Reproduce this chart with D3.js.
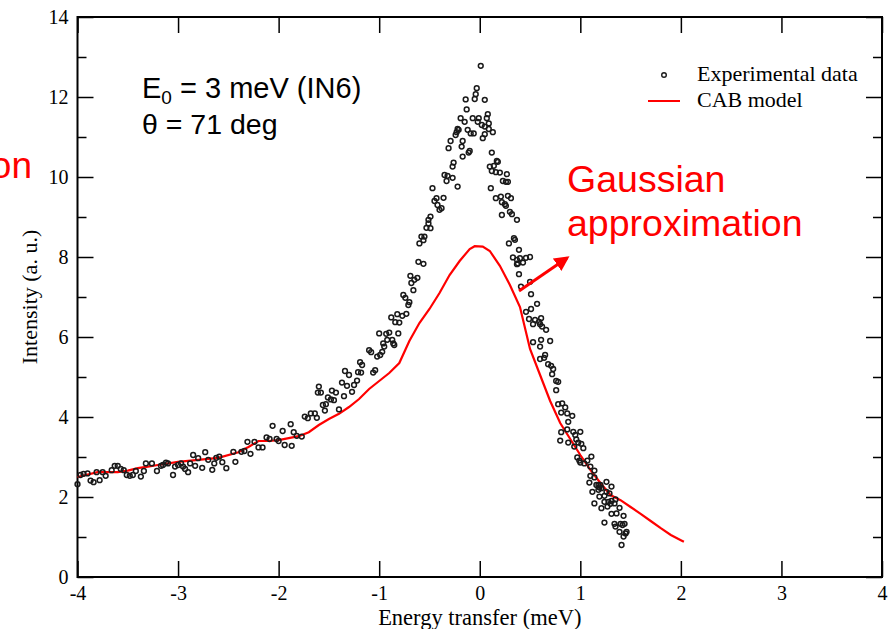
<!DOCTYPE html>
<html>
<head>
<meta charset="utf-8">
<script src="https://cdn.jsdelivr.net/npm/d3@7"></script>
<style>
  body { margin: 0; background: #fff; }
  svg { display: block; }
</style>
</head>
<body>
<div id="chart"></div>
<script>
// model curve (CAB model)
var modelE = [-4.0,-3.8,-3.6,-3.5,-3.4,-3.3,-3.2,-3.0,-2.8,-2.6,-2.4,-2.3,-2.2,-2.1,-2.0,-1.8,-1.7,-1.6,-1.5,-1.4,-1.3,-1.2,-1.1,-1.0,-0.9,-0.8,-0.7,-0.6,-0.5,-0.4,-0.3,-0.2,-0.1,-0.05,0.03,0.1,0.2,0.3,0.4,0.5,0.6,0.7,0.8,0.9,1.0,1.1,1.2,1.3,1.4,1.5,1.6,1.7,1.8,1.9,2.0,2.03];
var modelI = [2.50,2.62,2.62,2.66,2.72,2.76,2.80,2.88,2.93,2.98,3.12,3.25,3.40,3.40,3.42,3.52,3.62,3.80,3.95,4.08,4.25,4.45,4.70,4.90,5.10,5.35,5.90,6.35,6.70,7.10,7.55,7.90,8.20,8.27,8.26,8.15,7.78,7.30,6.75,5.70,5.05,4.40,3.85,3.45,3.05,2.68,2.35,2.05,1.92,1.75,1.58,1.40,1.22,1.05,0.92,0.88];

// experimental points
var expE = [-4.00,-3.97,-3.94,-3.90,-3.87,-3.84,-3.81,-3.78,-3.75,-3.72,-3.66,-3.63,-3.60,-3.57,-3.54,-3.51,-3.48,-3.45,-3.42,-3.37,
  -3.34,-3.32,-3.26,-3.21,-3.17,-3.15,-3.12,-3.10,-3.05,-3.03,-3.00,-2.97,-2.95,-2.93,-2.90,-2.88,-2.85,-2.83,-2.80,-2.76,
  -2.73,-2.70,-2.66,-2.64,-2.62,-2.59,-2.56,-2.52,-2.45,-2.43,-2.37,-2.34,-2.31,-2.28,-2.24,-2.20,-2.16,-2.12,-2.09,-2.06,
  -2.02,-2.00,-1.96,-1.94,-1.88,-1.87,-1.85,-1.82,-1.77,-1.74,-1.71,-1.68,-1.64,-1.62,-1.61,-1.60,-1.58,-1.56,-1.54,-1.53,
  -1.51,-1.48,-1.47,-1.45,-1.43,-1.40,-1.37,-1.35,-1.34,-1.32,-1.30,-1.27,-1.25,-1.22,-1.21,-1.19,-1.18,-1.17,-1.10,-1.08,
  -1.06,-1.04,-1.02,-1.00,-0.99,-0.97,-0.96,-0.95,-0.93,-0.92,-0.90,-0.87,-0.86,-0.85,-0.88,-0.84,-0.82,-0.80,-0.77,-0.81,
  -0.73,-0.71,-0.70,-0.76,-0.74,-0.66,-0.68,-0.65,-0.62,-0.69,-0.61,-0.56,-0.60,-0.58,-0.55,-0.56,-0.53,-0.51,-0.49,-0.49,
  -0.51,-0.47,-0.45,-0.43,-0.42,-0.40,-0.38,-0.36,-0.35,-0.33,-0.32,-0.31,-0.29,-0.27,-0.26,-0.27,-0.22,-0.24,-0.23,-0.22,
  -0.21,-0.18,-0.17,-0.17,-0.19,-0.15,-0.14,-0.13,-0.11,-0.10,-0.12,-0.09,-0.07,-0.06,-0.05,-0.04,-0.03,-0.02,-0.01,0.01,
  0.02,0.05,0.07,0.08,0.09,0.05,0.09,0.05,0.03,0.13,0.12,0.17,0.18,0.10,0.14,0.12,0.16,0.20,0.27,0.23,
  0.26,0.28,0.11,0.16,0.21,0.22,0.25,0.28,0.31,0.26,0.22,0.30,0.32,0.37,0.34,0.35,0.29,0.39,0.33,0.37,
  0.40,0.43,0.46,0.50,0.37,0.38,0.39,0.41,0.50,0.51,0.51,0.46,0.57,0.49,0.55,0.53,0.59,0.61,0.60,0.62,
  0.66,0.53,0.61,0.70,0.60,0.60,0.65,0.64,0.68,0.71,0.73,0.72,0.76,0.78,0.76,0.78,0.82,0.81,0.85,0.87,
  0.92,0.88,0.81,0.80,0.87,0.93,0.95,1.00,0.88,0.96,0.98,1.01,0.94,1.03,0.97,0.99,1.00,1.04,1.07,1.11,
  1.10,1.14,1.10,1.09,1.14,1.16,1.18,1.19,1.20,1.12,1.18,1.21,1.26,1.24,1.26,1.29,1.31,1.19,1.14,1.24,
  1.28,1.31,1.34,1.35,1.21,1.27,1.30,1.39,1.31,1.36,1.43,1.24,1.34,1.35,1.40,1.42,1.44,1.39,1.46,1.45,
  1.43,1.41];
var expI = [2.32,2.55,2.58,2.59,2.41,2.37,2.62,2.42,2.62,2.53,2.67,2.78,2.78,2.70,2.67,2.55,2.53,2.55,2.65,2.51,
  2.65,2.84,2.84,2.65,2.78,2.80,2.86,2.84,2.55,2.76,2.80,2.84,2.76,2.70,2.62,2.84,3.05,2.78,2.97,2.73,
  3.12,2.93,2.68,2.84,2.98,3.01,2.87,2.72,3.13,2.88,3.13,3.15,3.38,3.08,3.38,3.24,3.24,3.49,3.45,3.78,
  3.45,3.40,3.65,3.30,3.82,3.28,3.62,3.53,3.51,4.01,3.97,4.09,4.09,3.98,4.61,4.76,4.61,4.30,4.16,4.32,
  4.49,4.44,4.66,4.42,4.61,4.19,4.86,4.52,5.15,4.78,5.05,4.63,4.80,4.91,5.12,5.37,5.11,5.30,5.67,5.62,
  5.11,5.17,5.51,6.09,5.55,5.63,5.84,5.76,6.08,5.93,6.11,5.93,5.84,5.80,6.49,6.37,6.57,6.36,6.53,6.09,
  6.58,6.80,6.87,7.05,6.98,7.17,7.35,7.43,7.48,7.53,7.88,7.83,8.34,8.51,8.51,8.42,8.73,8.93,9.01,8.72,
  8.84,9.72,9.40,9.47,9.30,9.18,9.22,9.48,10.05,9.90,10.03,10.72,10.90,10.26,10.36,9.98,9.76,11.05,11.12,11.20,
  11.18,10.76,10.51,10.90,11.47,11.38,11.94,11.69,10.61,10.65,11.18,11.09,11.47,11.09,11.95,12.07,12.22,11.38,11.47,12.78,
  11.30,11.93,11.47,11.57,11.34,11.26,11.20,11.07,10.97,11.12,10.61,10.40,10.38,10.26,10.28,10.15,10.12,10.11,10.07,9.90,
  9.88,9.88,9.72,9.47,9.51,9.37,9.32,9.53,9.47,9.28,9.05,9.13,9.07,8.93,8.47,8.43,8.34,8.18,7.99,7.93,
  7.97,7.86,7.98,8.00,7.82,7.84,7.57,7.26,7.38,7.07,6.70,6.63,6.83,6.45,6.43,6.32,6.38,6.47,6.32,6.26,
  6.18,5.87,5.93,5.90,5.76,5.45,5.55,5.48,5.32,5.28,5.20,5.07,4.90,4.88,4.67,4.32,4.34,4.11,4.24,4.09,
  4.03,3.88,3.62,3.41,3.69,3.63,3.55,3.63,3.36,3.44,3.36,3.33,3.26,3.22,2.99,2.91,2.86,2.84,2.91,3.01,
  2.76,2.66,2.53,2.36,2.49,2.30,2.30,2.24,2.30,2.13,2.18,2.22,2.38,2.03,2.13,2.09,2.26,2.01,1.84,1.88,
  1.88,1.90,1.84,1.94,1.72,1.76,1.83,1.73,1.58,1.59,1.53,1.36,1.33,1.26,1.33,1.30,1.33,1.13,1.13,1.09,
  1.01,0.80];

var xTicks = [-4,-3,-2,-1,0,1,2,3,4];
var yTicks = [0,2,4,6,8,10,12,14];
var yMinor = [1,3,5,7,9,11,13];
var legendLabels = ["Experimental data", "CAB model"];

function drawChart() {
  var width = 892, height = 629;
  var mLeft = 77.5, mRight = 882, mTop = 17, mBottom = 577;

  var svg = d3.select("#chart").append("svg")
      .attr("width", width)
      .attr("height", height);

  var x = d3.scaleLinear().domain([-4, 4]).range([mLeft, mRight]);
  var y = d3.scaleLinear().domain([0, 14]).range([mBottom, mTop]);

  var serif = "'Liberation Serif', 'Times New Roman', serif";
  var sans = "'Liberation Sans', Arial, sans-serif";
  var fmt = function(d) { return String(d); };

  // axes, ticks point inward
  function styleAxis(g) {
    g.select(".domain").remove();
    g.selectAll(".tick line").attr("stroke", "#000").attr("stroke-width", 1.5);
    g.selectAll("text").attr("font-family", serif).attr("font-size", 20).attr("fill", "#000");
  }

  svg.append("g").attr("transform", "translate(0," + mBottom + ")")
    .call(d3.axisBottom(x).tickValues(xTicks).tickSize(-16).tickPadding(8).tickFormat(fmt))
    .call(styleAxis)
    .selectAll("text").attr("dy", "0.71em").attr("y", 9);
  svg.append("g").attr("transform", "translate(0," + mTop + ")")
    .call(d3.axisTop(x).tickValues(xTicks).tickSize(-16).tickFormat(""))
    .call(styleAxis);
  svg.append("g").attr("transform", "translate(" + mLeft + ",0)")
    .call(d3.axisLeft(y).tickValues(yTicks).tickSize(-16).tickFormat(fmt))
    .call(styleAxis)
    .selectAll("text").attr("x", -9);
  svg.append("g").attr("transform", "translate(" + mLeft + ",0)")
    .call(d3.axisLeft(y).tickValues(yMinor).tickSize(-9).tickFormat(""))
    .call(styleAxis);
  svg.append("g").attr("transform", "translate(" + mRight + ",0)")
    .call(d3.axisRight(y).tickValues(yTicks).tickSize(-16).tickFormat(""))
    .call(styleAxis);
  svg.append("g").attr("transform", "translate(" + mRight + ",0)")
    .call(d3.axisRight(y).tickValues(yMinor).tickSize(-9).tickFormat(""))
    .call(styleAxis);

  // frame
  svg.append("rect")
    .attr("x", mLeft).attr("y", mTop)
    .attr("width", mRight - mLeft).attr("height", mBottom - mTop)
    .attr("fill", "none").attr("stroke", "#000").attr("stroke-width", 2);

  // axis titles
  svg.append("text")
    .attr("x", (mLeft + mRight) / 2).attr("y", 625)
    .attr("text-anchor", "middle")
    .attr("font-family", serif).attr("font-size", 22.5)
    .text("Energy transfer (meV)");
  svg.append("text")
    .attr("transform", "translate(37,297) rotate(-90)")
    .attr("text-anchor", "middle")
    .attr("font-family", serif).attr("font-size", 22)
    .text("Intensity (a. u.)");

  // model line
  var model = modelE.map(function(d, i) { return [d, modelI[i]]; });
  svg.append("path")
    .datum(model)
    .attr("fill", "none")
    .attr("stroke", "#ff0000")
    .attr("stroke-width", 2.2)
    .attr("d", d3.line().x(function(d) { return x(d[0]); }).y(function(d) { return y(d[1]); }));

  // experimental points
  var pts = expE.map(function(d, i) { return [d, expI[i]]; });
  svg.append("g").selectAll("circle")
    .data(pts)
    .enter()
    .append("circle")
    .attr("cx", function(d) { return x(d[0]); })
    .attr("cy", function(d) { return y(d[1]); })
    .attr("r", 2.4)
    .attr("fill", "none")
    .attr("stroke", "#1a1a1a")
    .attr("stroke-width", 1.5);

  // legend
  var lg = svg.append("g");
  lg.append("circle").attr("cx", 664).attr("cy", 75).attr("r", 2.3)
    .attr("fill", "none").attr("stroke", "#1a1a1a").attr("stroke-width", 1.4);
  lg.append("line").attr("x1", 648).attr("x2", 680).attr("y1", 101).attr("y2", 101)
    .attr("stroke", "#ff0000").attr("stroke-width", 2);
  lg.selectAll("text").data(legendLabels).enter().append("text")
    .attr("x", 697).attr("y", function(d, i) { return 81 + i * 26; })
    .attr("font-family", serif).attr("font-size", 22)
    .text(function(d) { return d; });

  // annotation text
  var note = svg.append("text").attr("x", 142).attr("y", 98)
    .attr("font-family", sans).attr("font-size", 29).attr("fill", "#000");
  note.append("tspan").text("E");
  note.append("tspan").attr("font-size", 19).attr("dy", 6).text("0");
  note.append("tspan").attr("dy", -6).text(" = 3 meV (IN6)");
  svg.append("text").attr("x", 142).attr("y", 134)
    .attr("font-family", sans).attr("font-size", 28.5).attr("fill", "#000")
    .text("\u03b8 = 71 deg");

  // red labels
  svg.append("text").attr("x", 32).attr("y", 178)
    .attr("text-anchor", "end")
    .attr("font-family", sans).attr("font-size", 37).attr("fill", "#ff0000")
    .text("on");
  svg.append("text").attr("x", 567).attr("y", 192)
    .attr("font-family", sans).attr("font-size", 37.5).attr("fill", "#ff0000")
    .text("Gaussian");
  svg.append("text").attr("x", 567).attr("y", 236)
    .attr("font-family", sans).attr("font-size", 37.5).attr("fill", "#ff0000")
    .text("approximation");

  // arrow
  svg.append("defs").append("marker")
    .attr("id", "head")
    .attr("viewBox", "0 0 10 10")
    .attr("refX", 8).attr("refY", 5)
    .attr("markerWidth", 5).attr("markerHeight", 5)
    .attr("orient", "auto")
    .append("path").attr("d", "M0,0L10,5L0,10Z").attr("fill", "#ff0000");
  svg.append("line")
    .attr("x1", 519).attr("y1", 291).attr("x2", 567).attr("y2", 258)
    .attr("stroke", "#ff0000").attr("stroke-width", 3)
    .attr("marker-end", "url(#head)");
}

drawChart();
</script>
</body>
</html>
